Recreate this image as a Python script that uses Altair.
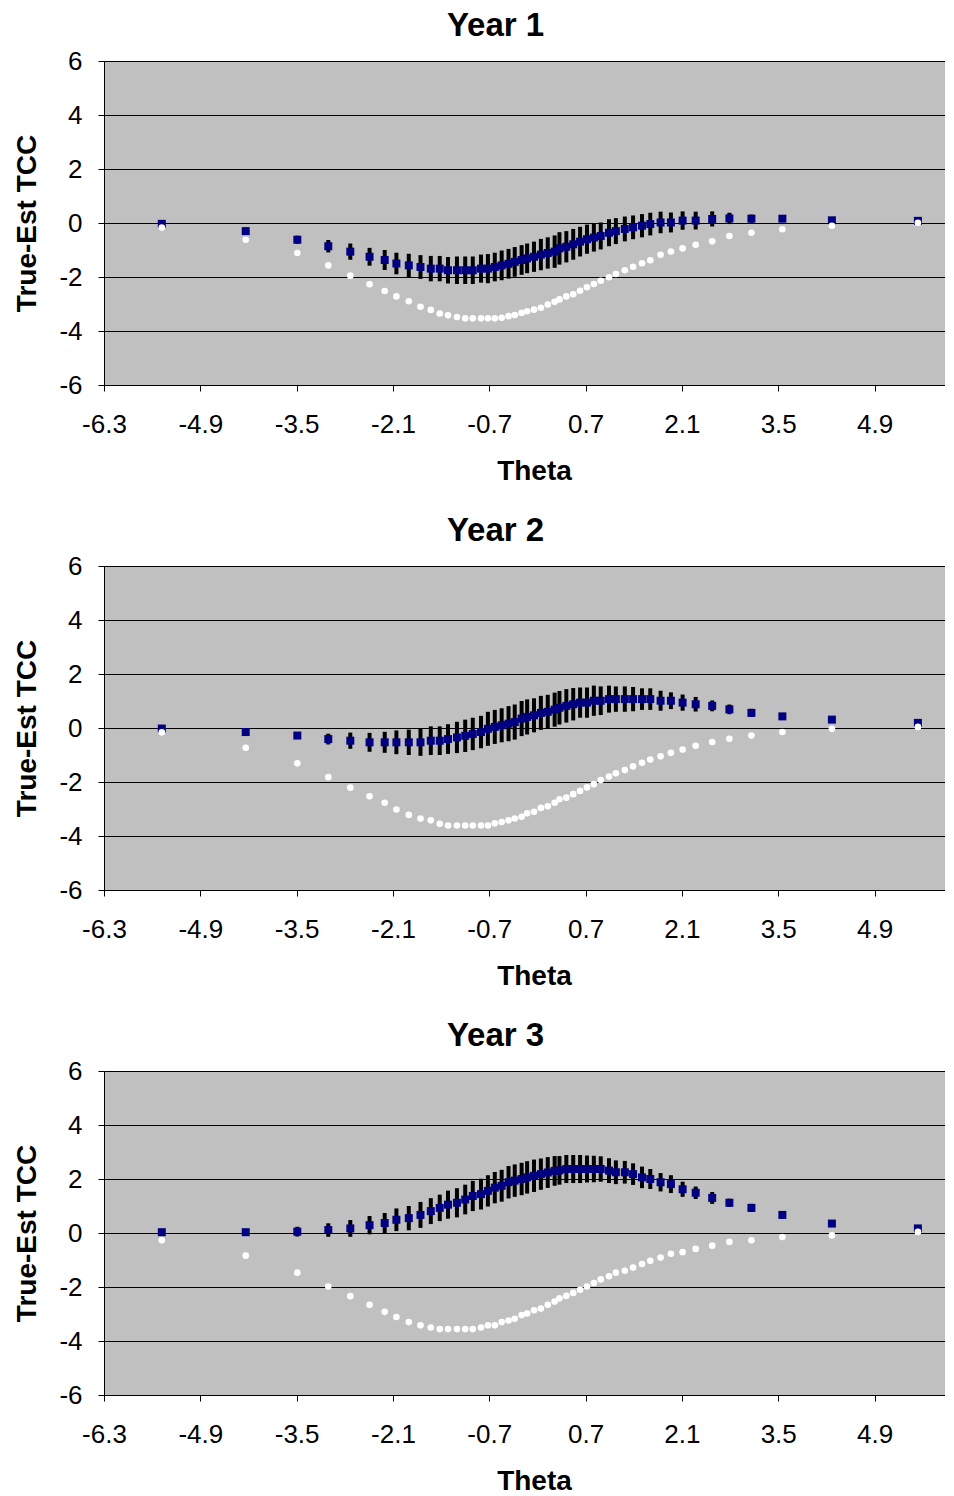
import altair as alt
import pandas as pd

# Theta grid (shared by all three years)
theta = [-5.46, -4.24, -3.49, -3.04, -2.72, -2.44, -2.22, -2.05, -1.87, -1.70,
         -1.55, -1.42, -1.30, -1.17, -1.05, -0.94, -0.82, -0.72, -0.62, -0.52,
         -0.42, -0.33, -0.23, -0.15, -0.05, 0.05, 0.15, 0.25, 0.32, 0.42,
         0.52, 0.62, 0.72, 0.82, 0.92, 1.04, 1.14, 1.27, 1.39, 1.52,
         1.64, 1.79, 1.94, 2.11, 2.30, 2.54, 2.79, 3.11, 3.56, 4.28, 5.53]

x_tick_labels = [-6.3, -4.9, -3.5, -2.1, -0.7, 0.7, 2.1, 3.5, 4.9]
y_tick_labels = [-6, -4, -2, 0, 2, 4, 6]

# Year 1
y1_mean = [-0.03, -0.30, -0.62, -0.86, -1.06, -1.25, -1.37, -1.50, -1.57, -1.63,
           -1.69, -1.69, -1.75, -1.75, -1.75, -1.75, -1.69, -1.69, -1.63, -1.57,
           -1.51, -1.44, -1.37, -1.31, -1.25, -1.17, -1.11, -1.06, -0.94, -0.88,
           -0.79, -0.69, -0.60, -0.54, -0.48, -0.36, -0.30, -0.22, -0.16, -0.10,
           -0.04, 0.02, 0.02, 0.09, 0.09, 0.15, 0.17, 0.16, 0.16, 0.10, 0.08]
y1_err = [0.03, 0.05, 0.15, 0.23, 0.30, 0.33, 0.37, 0.40, 0.43, 0.44,
          0.47, 0.47, 0.49, 0.51, 0.51, 0.51, 0.52, 0.54, 0.53, 0.55,
          0.55, 0.55, 0.55, 0.55, 0.56, 0.58, 0.58, 0.60, 0.60, 0.58,
          0.57, 0.55, 0.54, 0.52, 0.50, 0.50, 0.48, 0.46, 0.44, 0.43,
          0.42, 0.40, 0.37, 0.34, 0.33, 0.28, 0.21, 0.15, 0.12, 0.05, 0.03]
y1_white = [-0.17, -0.62, -1.11, -1.57, -1.95, -2.27, -2.52, -2.72, -2.90, -3.10,
            -3.22, -3.35, -3.42, -3.48, -3.53, -3.53, -3.53, -3.53, -3.53, -3.51,
            -3.45, -3.41, -3.33, -3.27, -3.21, -3.14, -3.02, -2.92, -2.83, -2.72,
            -2.64, -2.51, -2.38, -2.26, -2.14, -2.01, -1.89, -1.75, -1.62, -1.49,
            -1.38, -1.18, -1.06, -0.94, -0.81, -0.68, -0.48, -0.36, -0.23, -0.10, 0.01]

# Year 2
y2_mean = [-0.02, -0.15, -0.28, -0.41, -0.47, -0.53, -0.53, -0.53, -0.53, -0.53,
           -0.47, -0.47, -0.41, -0.35, -0.29, -0.22, -0.15, -0.03, 0.04, 0.10,
           0.16, 0.22, 0.35, 0.41, 0.47, 0.56, 0.60, 0.68, 0.75, 0.82,
           0.88, 0.94, 0.94, 1.01, 1.01, 1.07, 1.07, 1.07, 1.07, 1.07,
           1.07, 1.01, 1.01, 0.94, 0.88, 0.82, 0.69, 0.56, 0.43, 0.31, 0.19]
y2_err = [0.03, 0.05, 0.12, 0.20, 0.30, 0.35, 0.39, 0.44, 0.47, 0.50,
          0.53, 0.53, 0.55, 0.58, 0.60, 0.60, 0.60, 0.63, 0.63, 0.63,
          0.65, 0.65, 0.65, 0.65, 0.63, 0.63, 0.63, 0.63, 0.62, 0.62,
          0.60, 0.56, 0.56, 0.56, 0.53, 0.50, 0.47, 0.47, 0.45, 0.40,
          0.40, 0.37, 0.31, 0.30, 0.27, 0.20, 0.18, 0.15, 0.12, 0.05, 0.04]
y2_white = [-0.16, -0.73, -1.31, -1.82, -2.21, -2.53, -2.77, -3.02, -3.22, -3.35,
            -3.42, -3.55, -3.61, -3.61, -3.61, -3.61, -3.61, -3.61, -3.53, -3.48,
            -3.42, -3.35, -3.29, -3.16, -3.10, -2.96, -2.90, -2.77, -2.64, -2.58,
            -2.45, -2.33, -2.20, -2.08, -1.93, -1.80, -1.68, -1.56, -1.42, -1.29,
            -1.17, -1.05, -0.92, -0.80, -0.66, -0.52, -0.40, -0.28, -0.15, -0.03, 0.04]

# Year 3
y3_mean = [0.03, 0.03, 0.05, 0.11, 0.17, 0.29, 0.37, 0.49, 0.55, 0.67,
           0.81, 0.93, 1.05, 1.12, 1.24, 1.37, 1.44, 1.56, 1.68, 1.75,
           1.88, 1.94, 2.00, 2.06, 2.12, 2.18, 2.24, 2.30, 2.32, 2.37,
           2.37, 2.37, 2.37, 2.37, 2.37, 2.31, 2.25, 2.25, 2.18, 2.06,
           2.00, 1.88, 1.81, 1.62, 1.49, 1.30, 1.12, 0.93, 0.67, 0.35, 0.17]
y3_err = [0.03, 0.06, 0.18, 0.25, 0.31, 0.34, 0.37, 0.42, 0.45, 0.48,
          0.48, 0.49, 0.52, 0.54, 0.55, 0.56, 0.57, 0.58, 0.58, 0.59,
          0.60, 0.60, 0.60, 0.60, 0.60, 0.58, 0.57, 0.55, 0.53, 0.52,
          0.52, 0.52, 0.50, 0.49, 0.47, 0.46, 0.44, 0.42, 0.40, 0.40,
          0.37, 0.34, 0.33, 0.28, 0.23, 0.22, 0.15, 0.15, 0.14, 0.05, 0.03]
y3_white = [-0.27, -0.84, -1.47, -1.98, -2.34, -2.66, -2.92, -3.11, -3.30, -3.42,
            -3.50, -3.56, -3.56, -3.56, -3.56, -3.56, -3.50, -3.42, -3.42, -3.30,
            -3.24, -3.18, -3.04, -2.98, -2.86, -2.80, -2.66, -2.54, -2.42, -2.33,
            -2.22, -2.10, -1.98, -1.85, -1.72, -1.60, -1.47, -1.40, -1.28, -1.15,
            -1.03, -0.91, -0.77, -0.71, -0.59, -0.47, -0.33, -0.27, -0.15, -0.09, 0.04]

FONT = "Arial, Liberation Sans, sans-serif"
W, H = 841, 324
XMAX = -6.3 + W / 68.8

X_LABEL = "datum.value < 0 ? '-' + format(-datum.value, '.1f') : format(datum.value, '.1f')"
Y_LABEL = "datum.value < 0 ? '-' + format(-datum.value, 'd') : format(datum.value, 'd')"


def panel(name, mean, err, white):
    df = pd.DataFrame({
        "theta": theta,
        "mean": mean,
        "lo": [m - e for m, e in zip(mean, err)],
        "hi": [m + e for m, e in zip(mean, err)],
        "white": white,
    })
    xs = alt.Scale(domain=[-6.3, XMAX], nice=False, zero=False)
    ys = alt.Scale(domain=[-6, 6], nice=False, zero=False)
    xa = alt.Axis(values=x_tick_labels, labelExpr=X_LABEL, title="Theta", grid=False,
                  titleX=430, titleY=86, titleBaseline="middle", titleAlign="center",
                  labelBaseline="middle", labelPadding=33, labelFlush=False)
    ya = alt.Axis(values=y_tick_labels, labelExpr=Y_LABEL, title="True-Est TCC", grid=True,
                  titleX=-77, titleY=H / 2, titleAngle=270, titleBaseline="middle",
                  titleAlign="center", labelPadding=16, labelFlush=False)
    x = alt.X("theta:Q", scale=xs, axis=xa)
    base = alt.Chart(df)
    bars = base.mark_rule(color="black", strokeWidth=4).encode(
        x=x, y=alt.Y("lo:Q", scale=ys, axis=ya), y2="hi:Q")
    squares = base.mark_square(color="#000080", size=64, opacity=1).encode(
        x=x, y=alt.Y("mean:Q", scale=ys, axis=ya))
    dots = base.mark_circle(color="white", size=44, opacity=1).encode(
        x=x, y=alt.Y("white:Q", scale=ys, axis=ya))
    return alt.layer(bars, squares, dots).properties(
        width=W, height=H,
        title=alt.TitleParams(text=name, anchor="middle", frame="group", dx=-29,
                              baseline="middle", offset=0, dy=11,
                              fontSize=33, fontWeight="bold", font=FONT, color="black"))


chart = alt.vconcat(
    panel("Year 1", y1_mean, y1_err, y1_white),
    panel("Year 2", y2_mean, y2_err, y2_white),
    panel("Year 3", y3_mean, y3_err, y3_white),
    spacing=181, bounds="flush",
).properties(
    padding={"left": 5, "top": 2, "right": 0, "bottom": 0},
    background="white",
).configure_view(
    fill="#C0C0C0", strokeWidth=0,
).configure_axis(
    labelFont=FONT, labelFontSize=26, labelColor="black",
    titleFont=FONT, titleFontSize=28, titleFontWeight="bold", titleColor="black",
    domainColor="black", domainWidth=1, tickColor="black", tickSize=6, tickWidth=1,
    gridColor="black", gridWidth=1, gridOpacity=1,
)

chart.save("out.html", embed_options={"renderer": "svg", "actions": False})
